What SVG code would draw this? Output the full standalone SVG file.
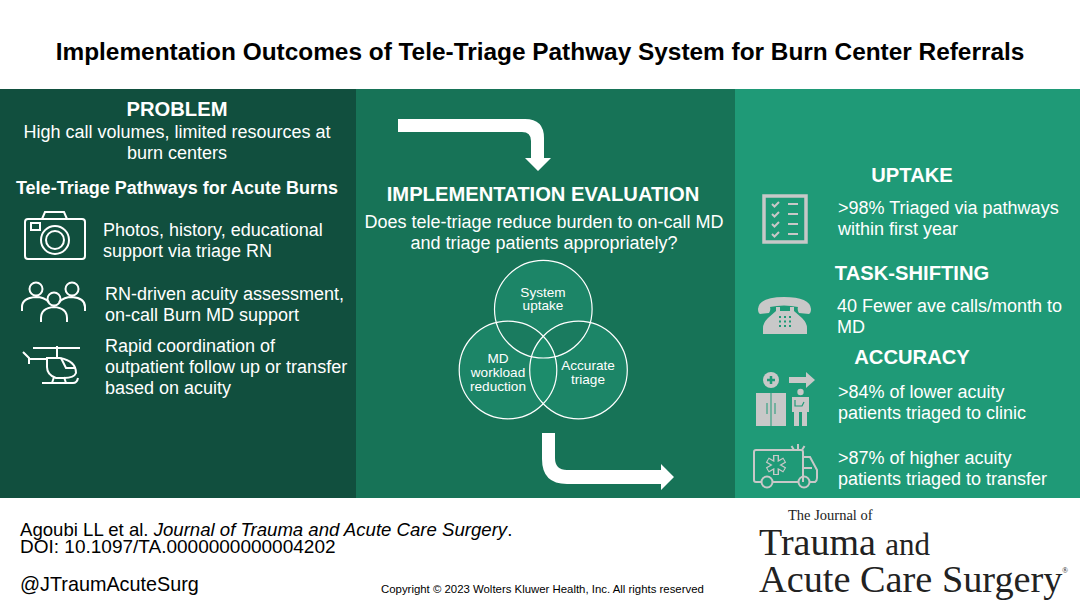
<svg xmlns="http://www.w3.org/2000/svg" width="1080" height="608" viewBox="0 0 1080 608">
<defs>
<clipPath id="cT"><circle cx="543.3" cy="309.2" r="48.8"/></clipPath>
<clipPath id="cL"><circle cx="508" cy="370" r="48.8"/></clipPath>
<clipPath id="cR"><circle cx="578.5" cy="370" r="48.8"/></clipPath>
</defs>
<style>
text{font-family:"Liberation Sans",Arial,sans-serif;fill:#fff}
.t{font-size:18px}
.b{font-size:20.2px;font-weight:bold}
.m{text-anchor:middle}
.k{fill:#000}
.s{font-family:"Liberation Serif","Times New Roman",serif;fill:#222}
.ic{fill:none;stroke:#fff;stroke-width:2}
.gf{fill:#c8c8c8}
.gs{fill:none;stroke:#c8c8c8;stroke-width:2}
.vo{fill:none;stroke:#fff;stroke-width:1.2}
.vt{font-size:13.6px;text-anchor:middle}
</style>
<rect width="1080" height="608" fill="#fff"/>
<rect y="89" width="356" height="409" fill="#114f3e"/>
<rect x="356" y="89" width="379" height="409" fill="#177357"/>
<rect x="735" y="89" width="345" height="409" fill="#1f9a77"/>
<text x="540" y="60" class="m k" style="font-size:24.4px;font-weight:bold">Implementation Outcomes of Tele-Triage Pathway System for Burn Center Referrals</text>

<g id="problem">
<text x="177" y="116" class="b m">PROBLEM</text>
<text x="177" y="138" class="t m">High call volumes, limited resources at</text>
<text x="177" y="159" class="t m">burn centers</text>
<text x="177" y="194" class="m" style="font-size:18px;font-weight:bold">Tele-Triage Pathways for Acute Burns</text>
</g>
<g id="camera">
<rect x="25" y="219" width="60" height="40" rx="3" class="ic"/>
<path d="M42 219l3-7h19l3 7" class="ic"/>
<circle cx="55" cy="240" r="14" class="ic"/><circle cx="55" cy="240" r="9" class="ic"/>
<rect x="31" y="223" width="9" height="7" class="ic"/>
<text x="103" y="236" class="t">Photos, history, educational</text>
<text x="103" y="257" class="t">support via triage RN</text>
</g>
<g id="team">
<circle cx="36" cy="289" r="6.5" class="ic"/><circle cx="72" cy="289" r="6.5" class="ic"/><circle cx="54" cy="299" r="6.5" class="ic"/>
<path d="M22 311v-4q0-9 14-10q8 0 13 5M85 311v-4q0-9-13-10q-8 0-13 5M41 322v-4q0-10 13-11q13 1 13 11v4" class="ic"/>
<text x="105" y="300" class="t">RN-driven acuity assessment,</text>
<text x="105" y="321" class="t">on-call Burn MD support</text>
</g>
<g id="helicopter">
<path d="M33 348h47M57 346v11M23 352l6 6v6M28 359h19M42 383h31q4 0 5-5M52 383l2-6M66 383l-2-6" class="ic"/>
<path d="M47 358h13q16 3 16 15q-2 5-12 5h-8q-9-3-9-11z" class="ic"/>
<path d="M61 358l5 10h10" class="ic"/>
<text x="105" y="352" class="t">Rapid coordination of</text>
<text x="105" y="373" class="t">outpatient follow up or transfer</text>
<text x="105" y="394" class="t">based on acuity</text>
</g>

<g id="connectors">
<path d="M398 119H525Q544 119 544 138V158H551L538 171L525 158H531V141Q531 132 522 132H398Z" fill="#fff"/>
<path d="M542 433H555V458Q555 470 567 470H661V464L674 477L661 490V484H567Q542 484 542 459Z" fill="#fff"/>
</g>

<g id="evaluation">
<text x="543" y="201" class="b m">IMPLEMENTATION EVALUATION</text>
<text x="544" y="228" class="t m">Does tele-triage reduce burden to on-call MD</text>
<text x="544" y="249" class="t m">and triage patients appropriately?</text>
</g>
<g id="venn">
<circle cx="543.3" cy="309.2" r="48.8" fill="#1c8567"/>
<circle cx="508" cy="370" r="48.8" fill="#1c8567"/>
<circle cx="578.5" cy="370" r="48.8" fill="#1c8567"/>
<g clip-path="url(#cT)"><circle cx="508" cy="370" r="48.8" fill="#1a7b5f"/><circle cx="578.5" cy="370" r="48.8" fill="#1a7b5f"/></g>
<g clip-path="url(#cL)"><circle cx="578.5" cy="370" r="48.8" fill="#1c8c6b"/></g>
<circle cx="543.3" cy="309.2" r="48.8" class="vo"/>
<circle cx="508" cy="370" r="48.8" class="vo"/>
<circle cx="578.5" cy="370" r="48.8" class="vo"/>
<text x="543" y="297" class="vt">System</text><text x="543" y="310" class="vt">uptake</text>
<text x="498" y="363" class="vt">MD</text><text x="498" y="377" class="vt">workload</text><text x="498" y="391" class="vt">reduction</text>
<text x="588" y="370" class="vt">Accurate</text><text x="588" y="384" class="vt">triage</text>
</g>

<g id="uptake">
<text x="912" y="182" class="b m">UPTAKE</text>
<rect x="764" y="196" width="42" height="46" fill="none" stroke="#c8c8c8" stroke-width="3.5"/>
<path d="M772 204l2.500 2.500 4.500-4.500M772 214l2.500 2.500 4.500-4.500M772 224l2.500 2.500 4.500-4.500M772 234l2.500 2.500 4.500-4.500" class="gs"/>
<path d="M788 204h10M788 214h10M788 224h10M788 234h10" class="gs"/>
<text x="838" y="214" class="t">&gt;98% Triaged via pathways</text>
<text x="838" y="235" class="t">within first year</text>
</g>
<g id="task">
<text x="912" y="280" class="b m">TASK-SHIFTING</text>
<path d="M758 309q1-12 26-12q26 0 27 12q0 4-2 5l-10-1q-2-3-1-6q-14-3-28 0q1 3-1 6l-9 1q-2-1-2-5z" class="gf"/>
<path d="M763 334v-6q0-5 5-10l8-7v-4h4v4h10v-4h4v4l8 7q5 5 5 10v6z" class="gf"/>
<path d="M779 317h2M784 317h2M789 317h2M779 321.500h2M784 321.500h2M789 321.500h2M779 326h2M784 326h2M789 326h2" stroke="#1f9a77" stroke-width="2.200"/>
<text x="837" y="312" class="t">40 Fewer ave calls/month to</text>
<text x="837" y="333" class="t">MD</text>
</g>
<g id="accuracy">
<text x="912" y="364" class="b m">ACCURACY</text>
<circle cx="771" cy="380" r="8" class="gf"/><path d="M767 380h8M771 376v8" stroke="#1f9a77" stroke-width="2.500"/>
<path d="M789 377h17v-5l9 8-9 8v-5h-17z" class="gf"/>
<rect x="756" y="393" width="30" height="33" class="gf"/>
<path d="M771 393v33" stroke="#1f9a77" stroke-width="1"/>
<path d="M767 403v11M775 403v11" stroke="#1f9a77" stroke-width="1"/>
<circle cx="800.500" cy="392" r="3.200" class="gf"/>
<path d="M792 397h17v15h-2v14h-5v-14h-3v14h-5v-14h-2z" class="gf"/>
<path d="M795 400v6h7l2-4" fill="none" stroke="#1f9a77" stroke-width="1.200"/>
<text x="838" y="398" class="t">&gt;84% of lower acuity</text>
<text x="838" y="419" class="t">patients triaged to clinic</text>
</g>
<g id="ambulance">
<path d="M761 482h-5q-2 0-2-2v-28q0-2 2-2h45q2 0 2 2v30M773 482h25M810 482h5q2-1 2-4v-8l-7-13h-7" class="gs"/>
<path d="M803 468h9" class="gs"/>
<circle cx="767" cy="482" r="5.500" class="gs"/><circle cx="804" cy="482" r="5.500" class="gs"/>
<path d="M776 455v20M767.300 460l17.400 10M767.300 470l17.400-10" stroke="#c8c8c8" stroke-width="6" fill="none"/>
<path d="M776 456v18M768.200 460.500l15.600 9M768.200 469.500l15.600-9" stroke="#1f9a77" stroke-width="3.200" fill="none"/>
<path d="M794 450l-2.500-4M798 449v-5M802 450l2.500-4" class="gs" stroke-width="1.200"/>
<text x="838" y="464" class="t">&gt;87% of higher acuity</text>
<text x="838" y="485" class="t">patients triaged to transfer</text>
</g>

<g id="footer">
<text x="20" y="536" class="k" style="font-size:18.600px">Agoubi LL et al. <tspan font-style="italic">Journal of Trauma and Acute Care Surgery</tspan>.</text>
<text x="20" y="553" class="k" style="font-size:19px">DOI: 10.1097/TA.0000000000004202</text>
<text x="20" y="591" class="k" style="font-size:19.800px">@JTraumAcuteSurg</text>
<text x="381" y="593" class="k" style="font-size:11.400px">Copyright © 2023  Wolters Kluwer Health, Inc. All rights reserved</text>
</g>
<g id="logo">
<text x="788" y="520" class="s" style="font-size:14.500px">The Journal of</text>
<text class="s"><tspan x="759" y="555" font-size="38">Trauma </tspan><tspan font-size="31">and</tspan><tspan x="759" y="592" font-size="38.300">Acute Care Surgery</tspan></text>
<text x="1062" y="573" class="s" style="font-size:8px">®</text>
</g>
</svg>
